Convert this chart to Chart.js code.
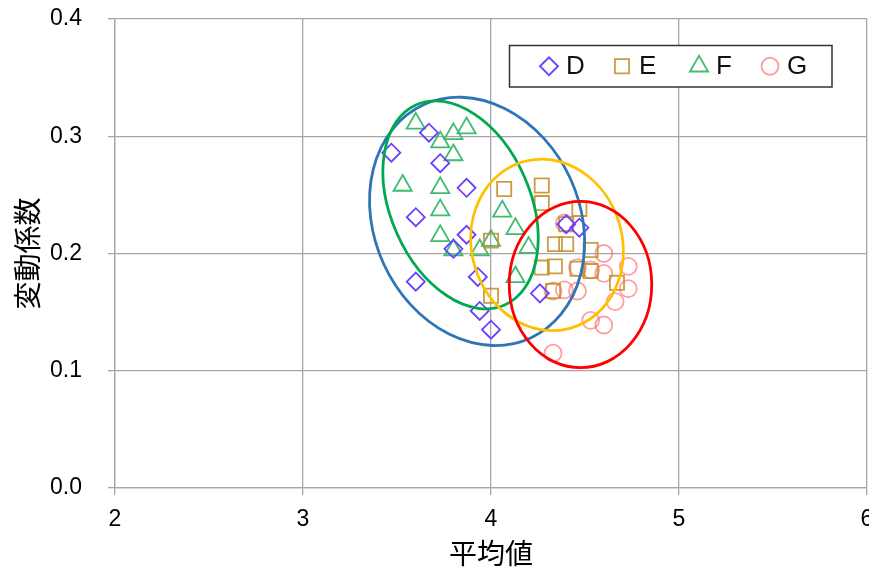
<!DOCTYPE html>
<html><head><meta charset="utf-8">
<script src="https://cdn.jsdelivr.net/npm/chart.js@4.4.1/dist/chart.umd.min.js"></script>
<style>html,body{margin:0;padding:0;background:#fff;}canvas{display:block;}</style>
</head><body>
<canvas id="c" width="869" height="574"></canvas>
<script>
// ---- data ----
const seriesNames = ['D', 'E', 'F', 'G'];
const xD = [3.47, 3.67, 3.73, 3.87, 3.60, 3.87, 3.80, 3.60, 3.93, 3.94, 4.00, 4.26, 4.40, 4.47];
const yD = [0.286, 0.303, 0.277, 0.256, 0.231, 0.216, 0.204, 0.176, 0.180, 0.151, 0.135, 0.166, 0.225, 0.222];
const xE = [4.07, 4.27, 4.27, 4.47, 4.00, 4.34, 4.40, 4.53, 4.27, 4.34, 4.46, 4.53, 4.67, 4.33, 4.00, 4.40];
const yE = [0.255, 0.258, 0.243, 0.238, 0.211, 0.208, 0.208, 0.203, 0.188, 0.189, 0.187, 0.185, 0.175, 0.168, 0.164, 0.225];
const xF = [3.60, 3.73, 3.80, 3.87, 3.80, 3.53, 3.73, 3.73, 3.73, 3.80, 3.94, 4.00, 4.06, 4.13, 4.20, 4.13];
const yF = [0.311, 0.295, 0.302, 0.307, 0.284, 0.258, 0.256, 0.237, 0.215, 0.203, 0.203, 0.211, 0.236, 0.221, 0.205, 0.180];
const xG = [4.39, 4.60, 4.46, 4.60, 4.73, 4.53, 4.33, 4.39, 4.46, 4.73, 4.66, 4.53, 4.60, 4.33];
const yG = [0.226, 0.200, 0.188, 0.183, 0.189, 0.186, 0.168, 0.169, 0.168, 0.170, 0.159, 0.143, 0.139, 0.115];
const xTickValues = [2, 3, 4, 5, 6];
const yTickValues = [0.0, 0.1, 0.2, 0.3, 0.4];
const xTitle = '平均値';
const yTitle = '変動係数';
// ellipses (centre, semi-axes in data units, screen rotation in degrees)
const ellipseCx = [3.926, 3.838, 4.298, 4.476];
const ellipseCy = [0.2274, 0.2415, 0.2073, 0.1735];
const ellipseRx = [0.546, 0.371, 0.401, 0.379];
const ellipseRy = [0.1094, 0.0933, 0.0738, 0.0709];
const ellipseAngle = [-24.7, -23.8, -16, 0];

// ---- styles ----
const ellipseColors = ['#2E75B6', '#00A84F', '#FFC000', '#FF0000'];
const seriesStyles = [
  {pointStyle: 'rectRot', radius: 9, color: '#6A3FFF'},
  {pointStyle: 'rect', radius: 10, color: 'rgba(196,146,48,0.9)'},
  {pointStyle: 'triangle', radius: 10.5, color: 'rgba(52,184,104,0.95)'},
  {pointStyle: 'circle', radius: 8.5, color: 'rgba(255,95,95,0.6)'}
];
const xs = [xD, xE, xF, xG];
const ys = [yD, yE, yF, yG];

const datasets = seriesNames.map((name, i) => ({
  label: name,
  data: xs[i].map((v, j) => ({x: v, y: ys[i][j]})),
  pointStyle: seriesStyles[i].pointStyle,
  pointRadius: seriesStyles[i].radius,
  pointHoverRadius: seriesStyles[i].radius,
  pointBorderWidth: 1.8,
  borderColor: seriesStyles[i].color,
  backgroundColor: 'rgba(0,0,0,0)',
  showLine: false
}));

const ellipsePlugin = {
  id: 'ellipses',
  afterDatasetsDraw(chart) {
    const {ctx, scales: {x, y}} = chart;
    ctx.save();
    ellipseCx.forEach((cx, i) => {
      const px = x.getPixelForValue(cx);
      const py = y.getPixelForValue(ellipseCy[i]);
      const rx = Math.abs(x.getPixelForValue(cx + ellipseRx[i]) - px);
      const ry = Math.abs(y.getPixelForValue(ellipseCy[i] + ellipseRy[i]) - py);
      ctx.beginPath();
      ctx.ellipse(px, py, rx, ry, ellipseAngle[i] * Math.PI / 180, 0, 2 * Math.PI);
      ctx.strokeStyle = ellipseColors[i];
      ctx.lineWidth = 2.8;
      ctx.stroke();
    });
    ctx.restore();
  }
};

function drawMarker(ctx, style, r, x, y) {
  if (Chart.helpers && Chart.helpers.drawPoint) {
    Chart.helpers.drawPoint(ctx, {pointStyle: style, radius: r, borderWidth: ctx.lineWidth, rotation: 0}, x, y);
    return;
  }
  ctx.beginPath();
  if (style === 'circle') ctx.arc(x, y, r, 0, 2 * Math.PI);
  else if (style === 'rect') { const s = r * Math.SQRT1_2; ctx.rect(x - s, y - s, 2 * s, 2 * s); }
  else if (style === 'rectRot') { ctx.moveTo(x - r, y); ctx.lineTo(x, y - r); ctx.lineTo(x + r, y); ctx.lineTo(x, y + r); ctx.closePath(); }
  else if (style === 'triangle') { ctx.moveTo(x, y - r); ctx.lineTo(x + r * 0.866, y + r / 2); ctx.lineTo(x - r * 0.866, y + r / 2); ctx.closePath(); }
  ctx.stroke();
}

const legendPlugin = {
  id: 'boxLegend',
  afterDraw(chart) {
    const ctx = chart.ctx;
    const box = {l: 509.5, t: 45.5, r: 832, b: 87};
    ctx.save();
    ctx.fillStyle = '#fff';
    ctx.fillRect(box.l, box.t, box.r - box.l, box.b - box.t);
    ctx.strokeStyle = '#333';
    ctx.lineWidth = 1.5;
    ctx.strokeRect(box.l, box.t, box.r - box.l, box.b - box.t);
    const cy = (box.t + box.b) / 2;
    const markerX = [549, 622, 699, 770];
    chart.data.datasets.forEach((ds, i) => {
      ctx.strokeStyle = ds.borderColor;
      ctx.fillStyle = 'rgba(0,0,0,0)';
      ctx.lineWidth = 1.8;
      drawMarker(ctx, ds.pointStyle, ds.pointRadius, markerX[i], cy);
      ctx.fillStyle = '#111';
      ctx.font = '26px "Liberation Sans", Arial, sans-serif';
      ctx.textAlign = 'left';
      ctx.textBaseline = 'middle';
      ctx.fillText(ds.label, markerX[i] + 17, cy + 1);
    });
    ctx.restore();
  }
};

const gridColor = '#A6A6A6';
const tickFont = {family: '"Liberation Sans", Arial, sans-serif', size: 23};
const titleFont = {family: '"Noto Sans CJK JP", sans-serif', size: 28};

new Chart(document.getElementById('c'), {
  type: 'scatter',
  data: {datasets},
  plugins: [ellipsePlugin, legendPlugin],
  options: {
    responsive: false,
    animation: false,
    devicePixelRatio: 1,
    layout: {autoPadding: false, padding: {top: 19, right: 2, left: 0, bottom: 0}},
    plugins: {legend: {display: false}, tooltip: {enabled: false}},
    scales: {
      x: {
        type: 'linear', min: xTickValues[0], max: xTickValues[xTickValues.length - 1],
        afterBuildTicks: s => { s.ticks = xTickValues.map(v => ({value: v})); },
        ticks: {font: tickFont, color: '#000', padding: 11, callback: v => String(v)},
        grid: {color: gridColor, lineWidth: 1.3, tickLength: 7, tickColor: gridColor},
        border: {color: gridColor, width: 1.3},
        title: {display: true, text: xTitle, font: titleFont, color: '#000', padding: {top: 0, bottom: 4}},
        afterFit: s => { s.height = 86; s.paddingLeft = 0; s.paddingRight = 0; }
      },
      y: {
        type: 'linear', min: yTickValues[0], max: yTickValues[yTickValues.length - 1],
        afterBuildTicks: s => { s.ticks = yTickValues.map(v => ({value: v})); },
        ticks: {font: tickFont, color: '#000', padding: 26, callback: v => Number(v).toFixed(1)},
        grid: {color: gridColor, lineWidth: 1.3, tickLength: 7, tickColor: gridColor},
        border: {color: gridColor, width: 1.3},
        title: {display: true, text: yTitle, font: titleFont, color: '#000', padding: {top: 11, bottom: 0}},
        afterFit: s => { s.width = 115; s.paddingTop = 0; s.paddingBottom = 0; }
      }
    }
  }
});
</script>
</body></html>
